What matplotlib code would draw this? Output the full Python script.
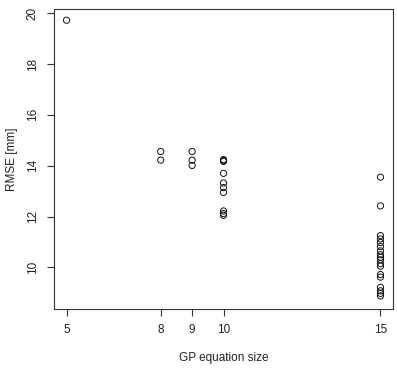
import matplotlib
matplotlib.use("Agg")
import matplotlib.pyplot as plt
import numpy as np

plt.rcParams["font.family"] = ["Liberation Sans", "DejaVu Sans"]

# equation size -> RMSE values
size_5 = [19.72]
size_8 = [14.56, 14.22]
size_9 = [14.56, 14.22, 14.01]
size_10 = [14.24, 14.20, 14.17, 13.70, 13.32, 13.14, 12.95, 12.22, 12.12, 12.05]
size_15 = [13.55, 12.42, 11.25, 11.12, 10.98, 10.82, 10.65, 10.50, 10.40,
           10.30, 10.15, 10.05, 9.72, 9.62, 9.22, 9.08, 8.98, 8.88]

x_ticks = [5, 8, 9, 10, 15]
y_ticks = [10, 12, 14, 16, 18, 20]

groups = [(5, size_5), (8, size_8), (9, size_9), (10, size_10), (15, size_15)]
xs = np.concatenate([[g] * len(v) for g, v in groups])
ys = np.concatenate([v for g, v in groups])

fig = plt.figure(figsize=(3.97, 3.77), dpi=100)
ax = fig.add_axes([0.136, 0.180, 0.854, 0.796])

ax.scatter(xs, ys, s=20, facecolors="none", edgecolors="#111111", linewidths=0.7)

ax.set_xlim(4.6, 15.4)
ax.set_ylim(8.36, 20.16)
ax.set_xticks(x_ticks)
ax.set_yticks(y_ticks)
ax.set_yticklabels([str(t) for t in y_ticks], rotation=90, va="center")
ax.tick_params(direction="out", length=5, width=0.8, labelsize=8.5, pad=6,
               color="#333333", labelcolor="#222222")
for s in ax.spines.values():
    s.set_linewidth(0.8)
    s.set_color("#333333")

ax.set_xlabel("GP equation size", fontsize=8.5, labelpad=11, color="#222222")
ax.set_ylabel("RMSE [mm]", fontsize=8.5, labelpad=6, color="#222222")

fig.savefig("out.png", dpi=100)
